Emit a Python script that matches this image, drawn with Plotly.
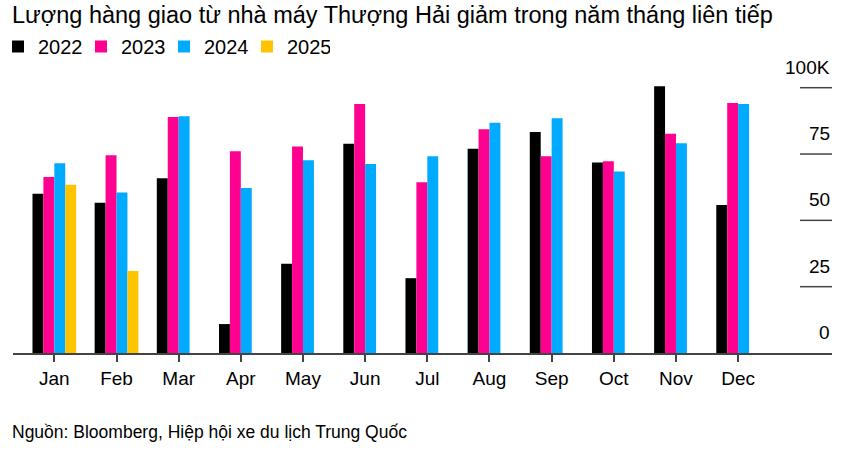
import plotly.graph_objects as go

# ---- data (thousand vehicles) ----
months = ["Jan", "Feb", "Mar", "Apr", "May", "Jun", "Jul", "Aug", "Sep", "Oct", "Nov", "Dec"]
y2022 = [60.0, 56.6, 65.9, 10.9, 33.6, 78.9, 28.2, 77.0, 83.3, 71.8, 100.5, 55.8]
y2023 = [66.3, 74.5, 89.0, 76.0, 77.8, 93.9, 64.4, 84.3, 74.2, 72.3, 82.6, 94.2]
y2024 = [71.5, 60.5, 89.2, 62.2, 72.7, 71.2, 74.2, 86.8, 88.5, 68.4, 79.1, 93.9]
y2025 = [63.4, 30.9, None, None, None, None, None, None, None, None, None, None]
y_ticks = [0, 25, 50, 75, 100]
y_tick_labels = ["0", "25", "50", "75", "100K"]

title = "Lượng hàng giao từ nhà máy Thượng Hải giảm trong năm tháng liên tiếp"
source = "Nguồn: Bloomberg, Hiệp hội xe du lịch Trung Quốc"

FONT = "Liberation Sans, Arial, sans-serif"
W, H = 864, 458
ML, MR, MT, MB = 13, 32, 60, 105
PW = W - ML - MR
PH = H - MT - MB


def px_x(px):
    """page x pixel -> paper fraction"""
    return (px - ML) / PW


def px_y(py):
    """page y pixel -> paper fraction"""
    return (H - MB - py) / PH


series = [
    ("2022", y2022, "#000000"),
    ("2023", y2023, "#ff0090"),
    ("2024", y2024, "#00aaff"),
    ("2025", y2025, "#ffc300"),
]

fig = go.Figure()
for name, vals, color in series:
    fig.add_trace(go.Bar(
        x=list(range(len(months))), y=vals, name=name,
        marker=dict(color=color, line=dict(width=0)),
        hoverinfo="skip",
    ))

ymax = PH / 2.653

fig.update_layout(
    width=W, height=H,
    margin=dict(l=ML, r=MR, t=MT, b=MB, autoexpand=False),
    paper_bgcolor="white", plot_bgcolor="white",
    barmode="group", bargap=0.297, bargroupgap=0,
    font=dict(family=FONT, color="#000000"),
    showlegend=True,
    hovermode=False,
    legend=dict(
        orientation="h", x=px_x(-2), y=px_y(27), xanchor="left", yanchor="top",
        font=dict(size=20, family=FONT), entrywidth=38, entrywidthmode="pixels",
        bgcolor="rgba(0,0,0,0)", tracegroupgap=0, itemclick=False,
    ),
    xaxis=dict(
        range=[-0.665, 12.51], tickmode="array",
        tickvals=list(range(len(months))), ticktext=months,
        showgrid=False, zeroline=False, showline=True,
        linecolor="#444444", linewidth=1.5,
        ticks="outside", ticklen=7, tickwidth=1.5, tickcolor="#444444",
        tickfont=dict(size=19, family=FONT, color="#000000"),
        fixedrange=True, automargin=False,
    ),
    yaxis=dict(
        range=[0, ymax], showgrid=False, zeroline=False, showline=False,
        showticklabels=False, ticks="", fixedrange=True, automargin=False,
    ),
)

# right-side short tick lines and labels above them
for v, lab in zip(y_ticks, y_tick_labels):
    if v != 0:
        fig.add_shape(type="line", xref="paper", yref="y",
                      x0=px_x(800), x1=1.0, y0=v, y1=v,
                      line=dict(color="#444444", width=1.5))
    fig.add_annotation(x=1.0, y=v, xref="paper", yref="y",
                       xanchor="right", yanchor="bottom", yshift=8,
                       text=lab, showarrow=False,
                       font=dict(size=19, family=FONT, color="#000000"))

fig.add_annotation(x=px_x(10), y=px_y(0), xref="paper", yref="paper",
                   xanchor="left", yanchor="top", text=title, showarrow=False,
                   font=dict(size=23.5, family=FONT, color="#000000"))
fig.add_annotation(x=px_x(10), y=px_y(420), xref="paper", yref="paper",
                   xanchor="left", yanchor="top", text=source, showarrow=False,
                   font=dict(size=17.5, family=FONT, color="#000000"))

fig.write_html(
    "out.html",
    config={"displayModeBar": False},
    post_script="document.body.style.margin='0';",
)
